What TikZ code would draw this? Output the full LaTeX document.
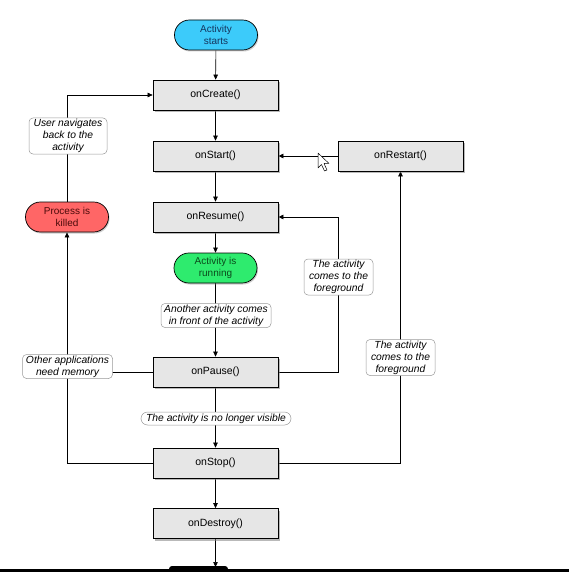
\documentclass[tikz,border=0pt]{standalone}
\usepackage{fontspec}
\setmainfont{Liberation Sans}
\usetikzlibrary{shadows,arrows.meta,backgrounds}
\definecolor{boxgray}{HTML}{E6E6E6}
\definecolor{startblue}{HTML}{3CCBFA}
\definecolor{startblueT}{HTML}{15365E}
\definecolor{killred}{HTML}{FF6666}
\definecolor{killredT}{HTML}{4A0A0A}
\definecolor{rungreen}{HTML}{2EEB6E}
\definecolor{rungreenT}{HTML}{0B4A1C}
\begin{document}
\begin{tikzpicture}[x=1pt,y=-1pt,
  method/.style={draw=black, line width=0.7pt, fill=boxgray, minimum width=125pt, minimum height=30pt, inner sep=0pt,
    drop shadow={shadow xshift=1.5pt, shadow yshift=-2pt, opacity=0.55}, font=\fontsize{10.5}{12}\selectfont},
  term/.style={draw=black, line width=0.7pt, rounded corners=14.9pt, minimum width=83pt, minimum height=30pt, inner sep=0pt,
    align=center, drop shadow={shadow xshift=1pt, shadow yshift=-1.5pt, opacity=0.4}, font=\fontsize{10}{12.5}\selectfont},
  note/.style={draw=gray!80, line width=0.5pt, rounded corners=4pt, fill=white, align=center, inner sep=1.2pt,
    font=\itshape\fontsize{10.3}{12}\selectfont},
  arr/.style={-{Triangle[length=5pt,width=4.5pt]}},
  conn/.style={line width=0.6pt, black}
]
\useasboundingbox (0,0) rectangle (569,572);

% terminals
\node[term, fill=startblue, text=startblueT] (start) at (216,35) {Activity\\starts};
\node[term, fill=killred, text=killredT] (killed) at (67,217) {Process is\\killed};
\node[term, fill=rungreen, text=rungreenT] (running) at (215.5,268) {Activity is\\running};

% methods
\node[method] (create) at (215.5,95) {onCreate()};
\node[method] (startm) at (215.5,156) {onStart()};
\node[method] (restart) at (400.5,156) {onRestart()};
\node[method] (resume) at (215.5,217) {onResume()};
\node[method] (pause) at (215.5,372) {onPause()};
\node[method] (stop) at (215.5,463) {onStop()};
\node[method] (destroy) at (215.5,523.5) {onDestroy()};

% notes
\node[note, minimum width=78pt] (n1) at (68,136) {User navigates\\back to the\\activity};
\node[note, minimum width=110pt] (n2) at (216,315.5) {Another activity comes\\in front of the activity};
\node[note, rounded corners=6.5pt, minimum width=150pt, minimum height=13pt, inner sep=0.5pt] (n3) at (216,418.5) {The activity is no longer visible};
\node[note, minimum width=90pt] (n4) at (67.5,366.5) {Other applications\\need memory};
\node[note, minimum width=69pt] (n5) at (338.5,277) {The activity\\comes to the\\foreground};
\node[note, minimum width=69pt] (n6) at (400.5,357.5) {The activity\\comes to the\\foreground};

\coordinate (endc) at (215.5,567);

% connectors
\begin{scope}[on background layer]
\draw[conn, arr] (start) -- (create);
\draw[conn, arr] (create) -- (startm);
\draw[conn, arr] (startm) -- (resume);
\draw[conn, arr] (resume) -- (running);
\draw[conn, arr] (running) -- (pause);
\draw[conn, arr] (pause) -- (stop);
\draw[conn, arr] (stop) -- (destroy);
\draw[conn, arr] (destroy) -- (endc);
\draw[conn, arr] (restart) -- (startm);
\draw[conn, arr] (killed.north) |- (create.west);
\draw[conn, arr] (stop.west) -| (killed.south);
\draw[conn] (pause.west) -- (pause.west -| killed.south);
\draw[conn, arr] (pause.east) -| (n5.south) (n5.north) |- (resume.east);
\draw[conn] (n5.south) -- (n5.north);
\draw[conn, arr] (stop.east) -| (restart.south);
\end{scope}

% mouse cursor
\draw[black, fill=white, line width=0.5pt, line join=round]
  (318,153) -- (318,168) -- (321.5,164.5) -- (324.5,171) -- (327,170) -- (324,163.5) -- (329,163.5) -- cycle;

% bottom edge
\fill[black, rounded corners=3pt] (169,566) rectangle (228,574);
\fill[black] (0,569) rectangle (569,572);
\end{tikzpicture}
\end{document}
